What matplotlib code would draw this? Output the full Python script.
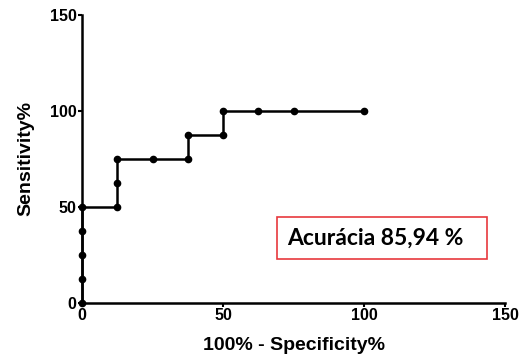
import matplotlib
matplotlib.use("Agg")
import matplotlib.pyplot as plt
from matplotlib.patches import Rectangle

# ROC curve points (100% - specificity, sensitivity)
fpr = [0, 0, 0, 0, 0, 12.5, 12.5, 12.5, 25, 37.5, 37.5, 50, 50, 62.5, 75, 100]
tpr = [0, 12.5, 25, 37.5, 50, 50, 62.5, 75, 75, 75, 87.5, 87.5, 100, 100, 100, 100]
xticks = [0, 50, 100, 150]
yticks = [0, 50, 100, 150]
label_text = "Acurácia 85,94 %"

plt.rcParams['font.family'] = ['Liberation Sans', 'DejaVu Sans']
plt.rcParams['font.weight'] = 'bold'

fig = plt.figure(figsize=(5.26, 3.58), dpi=100)
ax = fig.add_axes([0.156, 0.154, 0.804, 0.804])

ax.plot(fpr, tpr, color="black", lw=1.8, marker="o", ms=4.5, clip_on=False, zorder=3)

ax.set_xlim(0, 150)
ax.set_ylim(0, 150)
ax.set_xticks(xticks)
ax.set_yticks(yticks)
ax.set_xticklabels([str(t) for t in xticks], fontweight="bold", fontsize=11.5)
ax.set_yticklabels([str(t) for t in yticks], fontweight="bold", fontsize=11.5)
ax.tick_params(direction="out", length=3, width=1.5, pad=1)

for s in ["top", "right"]:
    ax.spines[s].set_visible(False)
for s in ["left", "bottom"]:
    ax.spines[s].set_linewidth(1.8)

ax.set_xlabel("100% - Specificity%", fontsize=14, fontweight="bold", labelpad=10)
ax.set_ylabel("Sensitivity%", fontsize=14, fontweight="bold", labelpad=11)

# accuracy box
ax.add_patch(Rectangle((69.1, 22.9), 74.5, 21.9, fc="white", ec="#e8383d", lw=1.2, zorder=4))
ax.text(72.7, 33.9, label_text, fontsize=16.5, fontweight="bold", family=["Lato", "DejaVu Sans"],
        ha="left", va="center", zorder=5)

fig.savefig("out.png", dpi=100)
